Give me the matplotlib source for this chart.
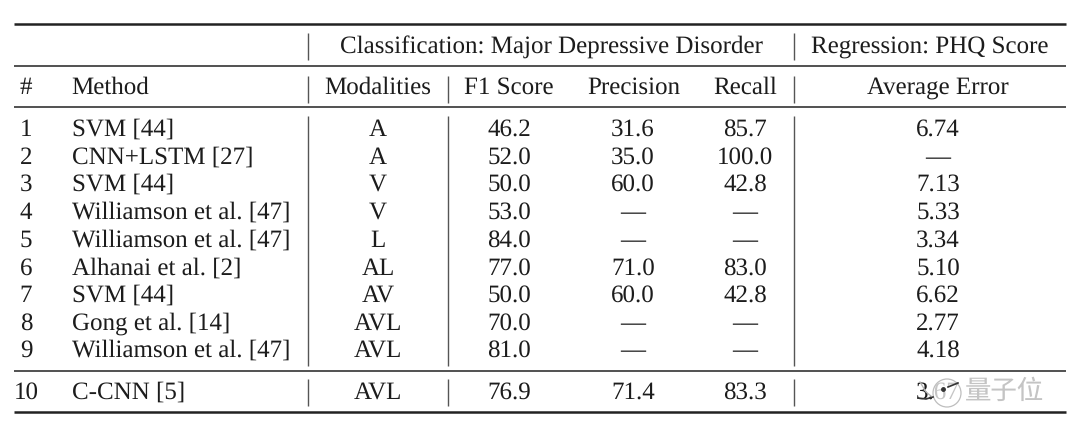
import matplotlib.pyplot as plt
from matplotlib.patches import Circle

plt.rcParams['font.family'] = ['Liberation Serif', 'DejaVu Serif']
plt.rcParams['text.hinting'] = 'none'
plt.rcParams['text.hinting_factor'] = 1

# Tabelleninhalt
numbers = ['1', '2', '3', '4', '5', '6', '7', '8', '9', '10']
methods = ['SVM [44]', 'CNN+LSTM [27]', 'SVM [44]', 'Williamson et al. [47]',
           'Williamson et al. [47]', 'Alhanai et al. [2]', 'SVM [44]',
           'Gong et al. [14]', 'Williamson et al. [47]', 'C-CNN [5]']
modalities = ['A', 'A', 'V', 'V', 'L', 'AL', 'AV', 'AVL', 'AVL', 'AVL']
f1_score = ['46.2', '52.0', '50.0', '53.0', '84.0', '77.0', '50.0', '70.0', '81.0', '76.9']
precision = ['31.6', '35.0', '60.0', '—', '—', '71.0', '60.0', '—', '—', '71.4']
recall = ['85.7', '100.0', '42.8', '—', '—', '83.0', '42.8', '—', '—', '83.3']
avg_error = ['6.74', '—', '7.13', '5.33', '3.34', '5.10', '6.62', '2.77', '4.18', '3.67']

row_y = [136, 164, 191, 219, 247, 275, 302, 330, 357, 399]  # Grundlinien
fs = 17.9
ink = '#1c1c1c'

fig = plt.figure(figsize=(10.8, 4.38), dpi=100)
ax = fig.add_axes([0, 0, 1, 1])
ax.set_xlim(0, 1080)
ax.set_ylim(438, 0)
ax.axis('off')


def cell(x, y, s, ha='center'):
    ax.text(x, y, s, ha=ha, va='baseline', fontsize=fs, color=ink, zorder=3)


# Horizontale Linien
for y, lw in [(24, 1.8), (66, 1.1), (107, 1.1), (371, 1.1), (412, 1.8)]:
    ax.plot([14, 1066], [y, y], color='#222222', lw=lw, solid_capstyle='butt')

# Vertikale Linien
for y0, y1, xs in [(33, 60, [308, 794]), (76, 103, [308, 448, 794]),
                   (116, 366, [308, 448, 794]), (379, 406, [308, 448, 794])]:
    for x in xs:
        ax.plot([x, x], [y0, y1], color='#555555', lw=1.0, solid_capstyle='butt')

# Kopfzeilen
cell(551, 53, 'Classification: Major Depressive Disorder')
cell(929.5, 53, 'Regression: PHQ Score')
cell(26, 94, '#')
cell(71.5, 94, 'Method', ha='left')
cell(378, 94, 'Modalities')
cell(509, 94, 'F1 Score')
cell(633.5, 94, 'Precision')
cell(745, 94, 'Recall')
cell(938, 94, 'Average Error')

# Zeilen
for i, y in enumerate(row_y):
    cell(26, y, numbers[i])
    cell(72, y, methods[i], ha='left')
    cell(378, y, modalities[i])
    cell(509, y, f1_score[i])
    cell(633, y, precision[i])
    cell(745, y, recall[i])
    cell(938, y, avg_error[i])

# Wasserzeichen
ax.add_patch(Circle((947, 393), 14, fc='white', ec='#a8a8a8', lw=0.9, alpha=0.75, zorder=4))
ax.plot([918, 926, 933], [398, 399, 397], color='#333333', lw=1.2, zorder=5)
ax.plot([920, 926, 931], [382, 392, 396], color='#b0b0b0', lw=0.9, zorder=5)
ax.plot([948, 958], [387, 383], color='#333333', lw=1.2, zorder=5)
ax.plot([943], [389], marker='o', ms=2.5, color='#333333', zorder=5)
ax.text(1005, 391, '量子位', ha='center', va='center', fontsize=19, color='#c4c4c4',
        family='Noto Sans CJK SC', fontweight='light', zorder=5)

fig.savefig('out.png', dpi=100)
